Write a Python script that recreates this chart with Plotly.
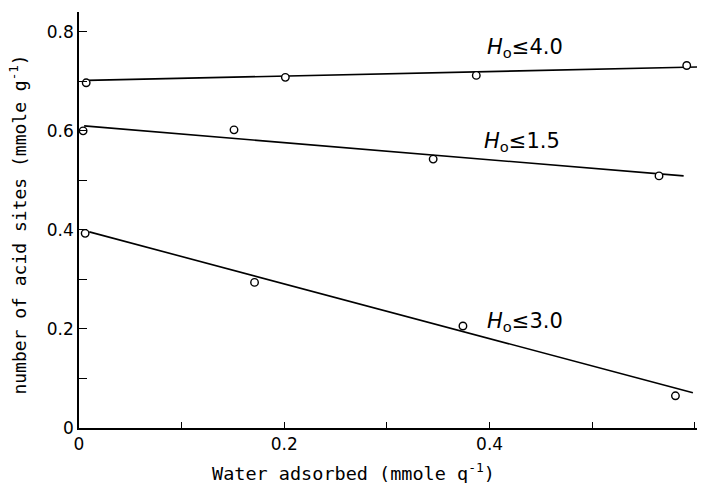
import plotly.graph_objects as go

# Measured acid-site amounts (mmole g^-1) versus adsorbed water (mmole g^-1)
water_h40 = [0.007, 0.201, 0.387, 0.592]
sites_h40 = [0.697, 0.708, 0.712, 0.732]

water_h15 = [0.004, 0.151, 0.345, 0.565]
sites_h15 = [0.600, 0.602, 0.543, 0.509]

water_h30 = [0.006, 0.171, 0.374, 0.581]
sites_h30 = [0.393, 0.294, 0.206, 0.065]

# Straight-line fits drawn through each series (start/end of each line)
fit_x_h40 = [0.008, 0.603]
fit_y_h40 = [0.702, 0.729]
fit_x_h15 = [0.005, 0.589]
fit_y_h15 = [0.610, 0.509]
fit_x_h30 = [0.010, 0.598]
fit_y_h30 = [0.396, 0.071]

series_labels = ["<i>H</i><sub>o</sub>≤4.0", "<i>H</i><sub>o</sub>≤1.5", "<i>H</i><sub>o</sub>≤3.0"]

x_ticks = [0, 0.1, 0.2, 0.3, 0.4, 0.5, 0.6]
x_tick_text = ["0", "", "0.2", "", "0.4", "", "0.6"]
y_ticks = [0, 0.1, 0.2, 0.3, 0.4, 0.5, 0.6, 0.7, 0.8]
y_tick_text = ["0", "", "0.2", "", "0.4", "", "0.6", "", "0.8"]

fig = go.Figure()

for fx, fy in [(fit_x_h40, fit_y_h40), (fit_x_h15, fit_y_h15), (fit_x_h30, fit_y_h30)]:
    fig.add_trace(go.Scatter(x=fx, y=fy, mode="lines",
                             line=dict(color="black", width=1.6),
                             showlegend=False, hoverinfo="skip"))

for wx, sy in [(water_h40, sites_h40), (water_h15, sites_h15), (water_h30, sites_h30)]:
    fig.add_trace(go.Scatter(x=wx, y=sy, mode="markers",
                             marker=dict(symbol="circle", size=7.5, color="white",
                                         line=dict(color="black", width=1.4)),
                             showlegend=False, cliponaxis=False))

label_font = dict(family="DejaVu Sans", size=21, color="black")
for text, lx, ly in [(series_labels[0], 0.395, 0.768),
                     (series_labels[1], 0.393, 0.578),
                     (series_labels[2], 0.395, 0.215)]:
    fig.add_annotation(x=lx, y=ly, xref="x", yref="y", text=text, showarrow=False,
                       xanchor="left", yanchor="middle", font=label_font)

fig.add_annotation(x=(353 - 79) / (697 - 79), y=-0.105,
                   xref="paper", yref="paper",
                   text="Water adsorbed (mmole q<sup>-1</sup>)", showarrow=False,
                   xanchor="center", yanchor="middle",
                   font=dict(family="DejaVu Sans Mono", size=18.5, color="black"))

fig.add_annotation(x=-0.098, y=0.49, xref="paper", yref="paper",
                   text="number of acid sites (mmole g<sup>-1</sup>)", showarrow=False,
                   textangle=-90, xanchor="center", yanchor="middle",
                   font=dict(family="DejaVu Sans Mono", size=18, color="black"))

axis_common = dict(showgrid=False, zeroline=False, showline=True, linecolor="black",
                   linewidth=1.6, ticks="inside", tickcolor="black", tickwidth=1.4,
                   tickfont=dict(family="DejaVu Sans", size=17, color="black"))

fig.update_xaxes(range=[0, 0.602], tickmode="array", tickvals=x_ticks,
                 ticktext=x_tick_text, ticklen=6, **axis_common)
fig.update_yaxes(range=[0, 0.84], tickmode="array", tickvals=y_ticks,
                 ticktext=y_tick_text, ticklen=8, **axis_common)

fig.update_layout(width=707, height=483, plot_bgcolor="white", paper_bgcolor="white",
                  margin=dict(l=79, r=10, t=12, b=55))

fig.write_html("out.html")
